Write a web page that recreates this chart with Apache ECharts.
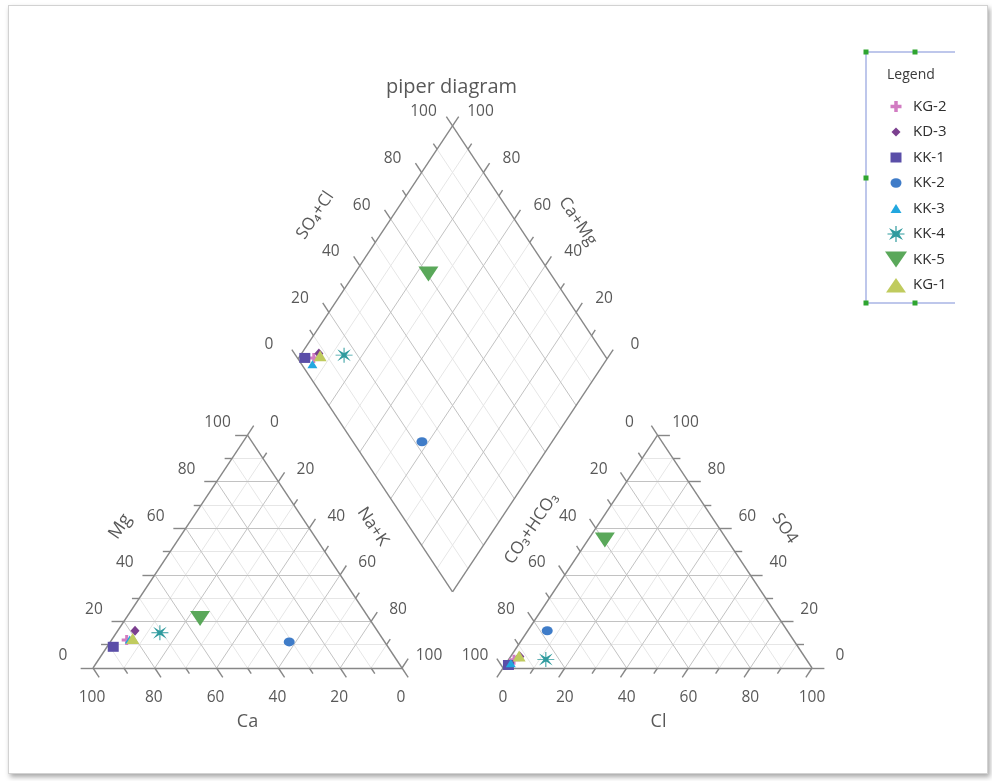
<!DOCTYPE html>
<html>
<head>
<meta charset="utf-8">
<script src="https://cdn.jsdelivr.net/npm/echarts@6/dist/echarts.min.js"></script>
<style>
  html, body { margin: 0; padding: 0; background: #ffffff; }
  #frame {
    position: absolute; left: 8px; top: 5px; width: 978px; height: 767px;
    border: 1px solid #d2d2d2; background: #ffffff;
    box-shadow: 2px 3px 5px rgba(0, 0, 0, 0.35);
  }
  #chart { position: absolute; left: 0; top: 0; width: 992px; height: 781px; }
</style>
</head>
<body>
<div id="frame"></div>
<div id="chart"></div>
<script>
// ---- sample data (meq % of cations and anions) ----
const samples = ['KG-2', 'KD-3', 'KK-1', 'KK-2', 'KK-3', 'KK-4', 'KK-5', 'KG-1'];
const caPct   = [83.1, 78.4, 88.9, 30.9, 82.0, 70.8, 54.7, 80.8];
const mgPct   = [12.0, 16.0,  9.1, 11.2, 12.2, 15.1, 21.3, 12.7];
const nakPct  = [ 4.9,  5.6,  2.0, 57.9,  5.8, 14.1, 24.0,  6.5];
const hco3Pct = [94.7, 92.1, 97.6, 77.7, 96.5, 84.3, 39.6, 92.2];
const so4Pct  = [ 3.5,  4.9,  1.3, 16.0,  2.0,  3.7, 54.9,  5.2];
const clPct   = [ 1.8,  3.0,  1.1,  6.3,  1.5, 12.0,  5.5,  2.6];
const tickValues = [0, 20, 40, 60, 80, 100];

const colors = ['#d27cc2', '#7b3f8f', '#5a4ea8', '#3f7cc8', '#22a7df', '#2f9b9e', '#5aa85a', '#c0cb5e'];

// ---- Piper geometry (triangle side = 100 units) ----
const SIDE = 100, GAP = 32.7, K = Math.sqrt(3) / 2, H = SIDE * K;
const BX = SIDE + GAP / 2, BY = (GAP / 2) * Math.sqrt(3);   // lower vertex of the diamond

function cation(ca, mg, nak) {
  const t = ca + mg + nak;
  return [SIDE * (nak + mg / 2) / t, H * mg / t];
}
function anion(hco3, so4, cl) {
  const t = hco3 + so4 + cl;
  return [SIDE + GAP + SIDE * (cl + so4 / 2) / t, H * so4 / t];
}
// caMg: Ca+Mg %, so4Cl: SO4+Cl %
function diamond(caMg, so4Cl) {
  const a = caMg / 100 * SIDE, b = so4Cl / 100 * SIDE;
  return [BX + 0.5 * (b - a), BY + K * (a + b)];
}

// ---- page mapping of the units ----
const W = 992, HT = 781;
const ORIGIN_X = 93, ORIGIN_Y = 668, PX_X = 3.09, PX_Y = 2.69;
// shift a unit point by a pixel offset
const shift = (p, dx, dy) => [p[0] + dx / PX_X, p[1] - dy / PX_Y];

const FONT = 'Open Sans';
const TEXT = '#2e2e2e';

// ---- grid lines, frame lines and ticks ----
const minorLines = [], majorLines = [], edgeLines = [];
const seg = (list, p, q) => list.push({ coords: [p, q] });
const ext = (p, d, L) => [p[0] + d[0] * L, p[1] + d[1] * L];
const UP_R = [0.5, K], UP_L = [-0.5, K], DN_R = [0.5, -K], DN_L = [-0.5, -K];

for (let v = 10; v <= 90; v += 10) {
  const list = v % 20 ? minorLines : majorLines;
  // cations
  seg(list, cation(100 - v, v, 0), cation(0, v, 100 - v));
  seg(list, cation(v, 100 - v, 0), cation(v, 0, 100 - v));
  seg(list, cation(100 - v, 0, v), cation(0, 100 - v, v));
  // anions
  seg(list, anion(100 - v, v, 0), anion(0, v, 100 - v));
  seg(list, anion(100 - v, 0, v), anion(0, 100 - v, v));
  seg(list, anion(v, 100 - v, 0), anion(v, 0, 100 - v));
  // diamond
  seg(list, diamond(v, 0), diamond(v, 100));
  seg(list, diamond(0, v), diamond(100, v));
}
// outlines
seg(edgeLines, cation(100, 0, 0), cation(0, 0, 100));
seg(edgeLines, cation(0, 0, 100), cation(0, 100, 0));
seg(edgeLines, cation(0, 100, 0), cation(100, 0, 0));
seg(edgeLines, anion(100, 0, 0), anion(0, 0, 100));
seg(edgeLines, anion(0, 0, 100), anion(0, 100, 0));
seg(edgeLines, anion(0, 100, 0), anion(100, 0, 0));
seg(edgeLines, diamond(0, 0), diamond(100, 0));
seg(edgeLines, diamond(100, 0), diamond(100, 100));
seg(edgeLines, diamond(100, 100), diamond(0, 100));
seg(edgeLines, diamond(0, 100), diamond(0, 0));
// ticks
for (let v = 0; v <= 100; v += 10) {
  const L = v % 20 ? 2.4 : 4;
  let p;
  p = cation(100 - v, v, 0); seg(edgeLines, p, ext(p, [-1, 0], L));
  p = cation(0, 100 - v, v); seg(edgeLines, p, ext(p, UP_R, L));
  p = cation(v, 0, 100 - v); seg(edgeLines, p, ext(p, DN_R, L));
  p = anion(0, v, 100 - v);  seg(edgeLines, p, ext(p, [1, 0], L));
  p = anion(100 - v, 0, v);  seg(edgeLines, p, ext(p, DN_L, L));
  p = anion(v, 100 - v, 0);  seg(edgeLines, p, ext(p, UP_L, L));
  p = diamond(v, 100);       seg(edgeLines, p, ext(p, UP_R, L));
  p = diamond(100, v);       seg(edgeLines, p, ext(p, UP_L, L));
}

function lineSeries(data, color, width, z) {
  return {
    type: 'lines', coordinateSystem: 'cartesian2d', data, silent: true, z,
    lineStyle: { color, width, opacity: 1, type: 'solid' }, effect: { show: false }
  };
}

// ---- tick labels ----
function tickLabelSeries(pointFn, dx, dy) {
  return {
    type: 'scatter', silent: true, symbolSize: 0, z: 6,
    data: tickValues.map(v => { const p = shift(pointFn(v), dx, dy); return [p[0], p[1], String(v)]; }),
    label: {
      show: true, position: 'inside', formatter: d => d.value[2],
      fontFamily: FONT, fontSize: 15.5, color: TEXT, align: 'center', verticalAlign: 'middle'
    }
  };
}

// ---- axis titles ----
const titles = [
  { text: 'Mg',        at: shift(cation(50, 50, 0), -50, -25), rot: 56,  size: 18 },
  { text: 'Na+K',      at: shift(cation(0, 50, 50), 48, -25),  rot: -56, size: 17 },
  { text: 'Ca',        at: shift(cation(50, 0, 50), 0, 54),    rot: 0,   size: 18 },
  { text: 'Cl',        at: shift(anion(50, 0, 50), 1, 54),     rot: 0,   size: 18 },
  { text: 'SO4',       at: shift(anion(0, 50, 50), 50, -23),   rot: -56, size: 17 },
  { text: 'CO₃+HCO₃',  at: shift(anion(50, 50, 0), -49, -23),  rot: 56,  size: 17 },
  { text: 'SO₄+Cl',    at: shift(diamond(100, 50), -60, -27),  rot: 56,  size: 17 },
  { text: 'Ca+Mg',     at: shift(diamond(50, 100), 48, -21),   rot: -56, size: 17 },
  { text: 'piper diagram', at: shift(diamond(100, 100), -1, -39), rot: 0, size: 20 }
];
const titleSeries = {
  type: 'scatter', silent: true, symbolSize: 0, z: 6,
  data: titles.map(t => ({
    value: t.at,
    label: { formatter: t.text, rotate: t.rot, fontSize: t.size }
  })),
  label: {
    show: true, position: 'inside', fontFamily: FONT, color: TEXT,
    align: 'center', verticalAlign: 'middle'
  }
};

// ---- sample markers ----
const PLUS = 'path://M7,0 L13,0 L13,7 L20,7 L20,13 L13,13 L13,20 L7,20 L7,13 L0,13 L0,7 L7,7 Z';
const STAR = 'path://M2,2 L10,7.6 L18,2 L12.4,10 L18,18 L10,12.4 L2,18 L7.6,10 Z ' +
             'M9.4,0 L10.6,0 L10.6,20 L9.4,20 Z M0,9.4 L20,9.4 L20,10.6 L0,10.6 Z';
const DOWN = 'path://M0,0 L20,0 L10,15 Z';
const symbols = [PLUS, 'diamond', 'rect', 'circle', 'triangle', STAR, DOWN, 'triangle'];
const sizes = [[10, 10], [9, 10], [11, 10], [11, 9], [10, 8], [17, 15], [20, 15], [13, 11]];

const sampleSeries = samples.map((name, i) => {
  const c = cation(caPct[i], mgPct[i], nakPct[i]);
  const a = anion(hco3Pct[i], so4Pct[i], clPct[i]);
  const tc = caPct[i] + mgPct[i] + nakPct[i], ta = hco3Pct[i] + so4Pct[i] + clPct[i];
  const d = diamond((caPct[i] + mgPct[i]) / tc * 100, (so4Pct[i] + clPct[i]) / ta * 100);
  return {
    type: 'scatter', name, data: [c, d, a], symbol: symbols[i], symbolSize: sizes[i],
    itemStyle: { color: colors[i], opacity: 1 }, z: 10 + i, silent: true
  };
});

// ---- legend icons (22 x 17 box) ----
const BOX = 'M0,0 M22,17 ';
const legendIcons = [
  'path://' + BOX + 'M9.25,3 L12.75,3 L12.75,6.75 L16.5,6.75 L16.5,10.25 L12.75,10.25 L12.75,14 L9.25,14 L9.25,10.25 L5.5,10.25 L5.5,6.75 L9.25,6.75 Z',
  'path://' + BOX + 'M11,4 L15.5,8.5 L11,13 L6.5,8.5 Z',
  'path://' + BOX + 'M5.5,3.5 L16.5,3.5 L16.5,13.5 L5.5,13.5 Z',
  'path://' + BOX + 'M5.5,8.5 A5.5,4.8 0 1,0 16.5,8.5 A5.5,4.8 0 1,0 5.5,8.5 Z',
  'path://' + BOX + 'M11,4 L16.5,13 L5.5,13 Z',
  'path://' + BOX + 'M4,2.5 L11,6.3 L18,2.5 L14,8.5 L18,14.5 L11,10.7 L4,14.5 L8,8.5 Z M10.4,0.5 L11.6,0.5 L11.6,16.5 L10.4,16.5 Z M2.5,7.9 L19.5,7.9 L19.5,9.1 L2.5,9.1 Z',
  'path://' + BOX + 'M0,0.5 L22,0.5 L11,16.5 Z',
  'path://' + BOX + 'M11,1.5 L21,16 L1,16 Z'
];

// legend frame with its handles
const frameColor = '#a9b4e4', handle = '#2fa52f';
const handles = [[866, 52], [915, 52], [866, 178], [866, 303], [915, 303]].map(([x, y]) => ({
  type: 'rect', shape: { x: x - 2.5, y: y - 2.5, width: 5, height: 5 }, style: { fill: handle }, z: 20
}));

const chart = echarts.init(document.getElementById('chart'), null, { renderer: 'canvas' });
chart.setOption({
  animation: false,
  backgroundColor: 'transparent',
  grid: { left: 0, right: 0, top: 0, bottom: 0, containLabel: false },
  xAxis: { type: 'value', min: -ORIGIN_X / PX_X, max: (W - ORIGIN_X) / PX_X, show: false },
  yAxis: { type: 'value', min: -(HT - ORIGIN_Y) / PX_Y, max: ORIGIN_Y / PX_Y, show: false },
  legend: {
    orient: 'vertical', left: 880, top: 93, itemWidth: 22, itemHeight: 17, itemGap: 8.5,
    selectedMode: false,
    data: samples.map((n, i) => ({ name: n, icon: legendIcons[i] })),
    textStyle: { fontFamily: FONT, fontSize: 15, color: TEXT, padding: [0, 0, 0, 1] }
  },
  graphic: [
    { type: 'line', shape: { x1: 866, y1: 52, x2: 955, y2: 52 }, style: { stroke: frameColor, lineWidth: 1.5 }, z: 19 },
    { type: 'line', shape: { x1: 866, y1: 52, x2: 866, y2: 303 }, style: { stroke: frameColor, lineWidth: 1.5 }, z: 19 },
    { type: 'line', shape: { x1: 866, y1: 303, x2: 955, y2: 303 }, style: { stroke: frameColor, lineWidth: 1.5 }, z: 19 },
    { type: 'text', x: 887, y: 75, style: { text: 'Legend', fontFamily: FONT, fontSize: 14, fill: '#3a3a3a', verticalAlign: 'middle' }, z: 19 },
    ...handles
  ],
  series: [
    lineSeries(minorLines, '#e6e6e6', 1, 1),
    lineSeries(majorLines, '#c2c2c2', 1, 2),
    lineSeries(edgeLines, '#878787', 1.4, 3),
    tickLabelSeries(v => cation(100 - v, v, 0), -30, -12),
    tickLabelSeries(v => cation(0, 100 - v, v), 27, -12),
    tickLabelSeries(v => cation(v, 0, 100 - v), -1, 30),
    tickLabelSeries(v => anion(100 - v, 0, v), 0, 30),
    tickLabelSeries(v => anion(0, v, 100 - v), 28, -12),
    tickLabelSeries(v => anion(v, 100 - v, 0), -28, -12),
    tickLabelSeries(v => diamond(100, v), -29, -14),
    tickLabelSeries(v => diamond(v, 100), 28, -14),
    titleSeries,
    ...sampleSeries
  ]
});
</script>
</body>
</html>
